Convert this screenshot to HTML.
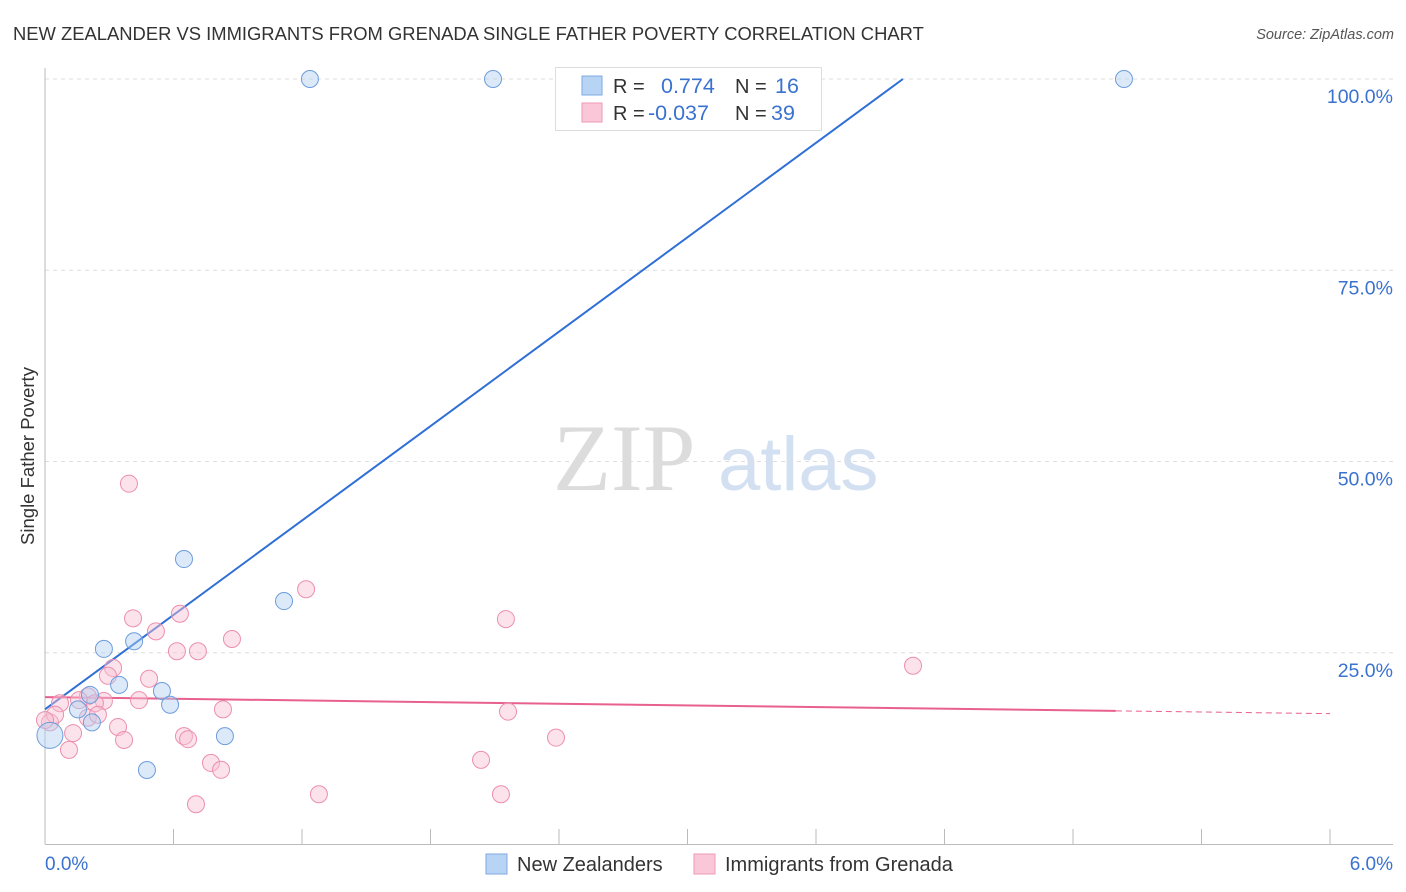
<!DOCTYPE html>
<html><head><meta charset="utf-8"><style>
body{margin:0;background:#fff;font-family:"Liberation Sans",sans-serif;}
#wrap{position:relative;width:1406px;height:892px;overflow:hidden;}
</style></head><body>
<div id="wrap">
<svg id="svg" width="1406" height="892" xmlns="http://www.w3.org/2000/svg">
<text x="13" y="40" font-size="18.4" fill="#333">NEW ZEALANDER VS IMMIGRANTS FROM GRENADA SINGLE FATHER POVERTY CORRELATION CHART</text>
<text x="1394" y="39" font-size="14.5" fill="#555" font-style="italic" text-anchor="end">Source: ZipAtlas.com</text>
<text x="34" y="456" font-size="18.5" fill="#333" text-anchor="middle" transform="rotate(-90 34 456)">Single Father Poverty</text>
<text x="553" y="490" font-size="95" fill="#dcdcdc" font-family="Liberation Serif,serif">ZIP</text>
<text x="718" y="490" font-size="76" fill="#d3e0f2">atlas</text>
<g id="grid"></g><g id="axes"></g><g id="lines"></g><g id="pts"></g>
<g>
<rect x="555.5" y="67.5" width="266" height="63" fill="#fff" stroke="#ddd"/>
<rect x="582" y="76" width="20" height="19" fill="#b8d4f4" stroke="#7fa9e0"/>
<rect x="582" y="103" width="20" height="19" fill="#f9c7d7" stroke="#ee9ab5"/>
<text x="613" y="93" font-size="20" fill="#333">R =</text><text x="661" y="93" font-size="21.5" fill="#3a72d0">0.774</text>
<text x="735" y="93" font-size="20" fill="#333">N =</text><text x="775" y="93" font-size="21.5" fill="#3a72d0">16</text>
<text x="613" y="120" font-size="20" fill="#333">R =</text><text x="648" y="120" font-size="21.5" fill="#3a72d0">-0.037</text>
<text x="735" y="120" font-size="20" fill="#333">N =</text><text x="771" y="120" font-size="21.5" fill="#3a72d0">39</text>
</g>
<g>
<rect x="486" y="854" width="21" height="20" fill="#b8d4f4" stroke="#7fa9e0"/>
<text x="517" y="871" font-size="20" fill="#333">New Zealanders</text>
<rect x="694" y="854" width="21" height="20" fill="#f9c7d7" stroke="#ee9ab5"/>
<text x="725" y="871" font-size="20" fill="#333">Immigrants from Grenada</text>
</g>
</svg>
</div>
<script>
const blueX=[1.237,2.092,5.038,0.649,1.116,0.275,0.416,0.346,0.21,0.546,0.584,0.154,0.219,0.84,0.476,0.023];
const blueY=[100,100,100,37.25,31.76,25.5,26.5,20.8,19.5,20.0,18.2,17.6,15.9,14.1,9.67,14.2];
const pinkX=[0.392,1.219,2.152,0.411,0.63,0.518,0.873,0.616,0.714,4.053,0.318,0.294,0.486,0.2,0.159,0.275,0.439,0.233,0.07,0.831,2.162,0.2,0.247,0.341,0.131,0.649,0.668,0.369,2.386,0.112,0.775,0.822,2.036,1.279,2.129,0.705,0.023,0.047,0.0];
const pinkY=[47.1,33.3,29.4,29.5,30.1,27.8,26.8,25.2,25.2,23.3,23.0,22.0,21.6,19.3,18.8,18.7,18.8,18.4,18.4,17.6,17.3,16.5,16.9,15.3,14.5,14.1,13.7,13.6,13.9,12.3,10.6,9.7,11.0,6.5,6.5,5.2,15.9,16.9,16.2];
const blueLine=[17.6,20.57];
const pinkLine=[19.2,-0.36];
const yTicks=[25,50,75,100];
const yTickLabels=["25.0%","50.0%","75.0%","100.0%"];
const xTicks=[0,0.6,1.2,1.8,2.4,3.0,3.6,4.2,4.8,5.4,6.0];
const NS="http://www.w3.org/2000/svg";
const sx=v=>45+v/6*1285, sy=v=>844-v/100*765;
function mk(p,t,a){const e=document.createElementNS(NS,t);for(const k in a)e.setAttribute(k,a[k]);document.getElementById(p).appendChild(e);return e;}
yTicks.forEach((t,i)=>{
 const l=mk('grid','line',{x1:45,x2:1393,y1:sy(t),y2:sy(t),stroke:'#ddd','stroke-dasharray':'4 4'});
 
 
 const tx=mk('grid','text',{x:1393,y:sy(t)+24,'font-size':19.5,fill:'#3a72d0','text-anchor':'end'});
 tx.textContent=yTickLabels[i];
 
 
});
const ya=mk('axes','line',{x1:45,x2:45,y1:68,y2:844,stroke:'#bbb'});


const xa=mk('axes','line',{x1:45,x2:1393,y1:844.5,y2:844.5,stroke:'#bbb'});


xTicks.forEach(t=>{const l=mk('axes','line',{x1:sx(t),x2:sx(t),y1:829,y2:844,stroke:'#bbb'});
 
 });
const x0=mk('axes','text',{x:45,y:870,'font-size':19,fill:'#3a72d0'});x0.textContent='0.0%';


const x1=mk('axes','text',{x:1393,y:870,'font-size':19,fill:'#3a72d0','text-anchor':'end'});x1.textContent='6.0%';


function pt(x,y,r,f,s,n){const c=mk('pts','circle',{cx:sx(x),cy:sy(y),r:r,fill:f,stroke:s,'stroke-width':1,'fill-opacity':0.45});
 
 }
pinkX.forEach((x,i)=>pt(x,pinkY[i],8.5,'#f9c0d3','#ec8fae','point-grenada'));
blueX.forEach((x,i)=>pt(x,blueY[i],i==15?13:8.5,'#b0cff2','#6e9ddc','point-new-zealanders'));
const bxEnd=(100-blueLine[0])/blueLine[1];
const bl=mk('lines','line',{x1:sx(0),y1:sy(blueLine[0]),x2:sx(bxEnd),y2:sy(100),stroke:'#2f6fd6','stroke-width':2});


const pl=mk('lines','line',{x1:sx(0),y1:sy(pinkLine[0]),x2:sx(5),y2:sy(pinkLine[0]+5*pinkLine[1]),stroke:'#e8608e','stroke-width':2});


const pd=mk('lines','line',{x1:sx(5),y1:sy(pinkLine[0]+5*pinkLine[1]),x2:sx(6),y2:sy(pinkLine[0]+6*pinkLine[1]),stroke:'#e8608e','stroke-width':1,'stroke-dasharray':'6 4'});


</script>
</body></html>
